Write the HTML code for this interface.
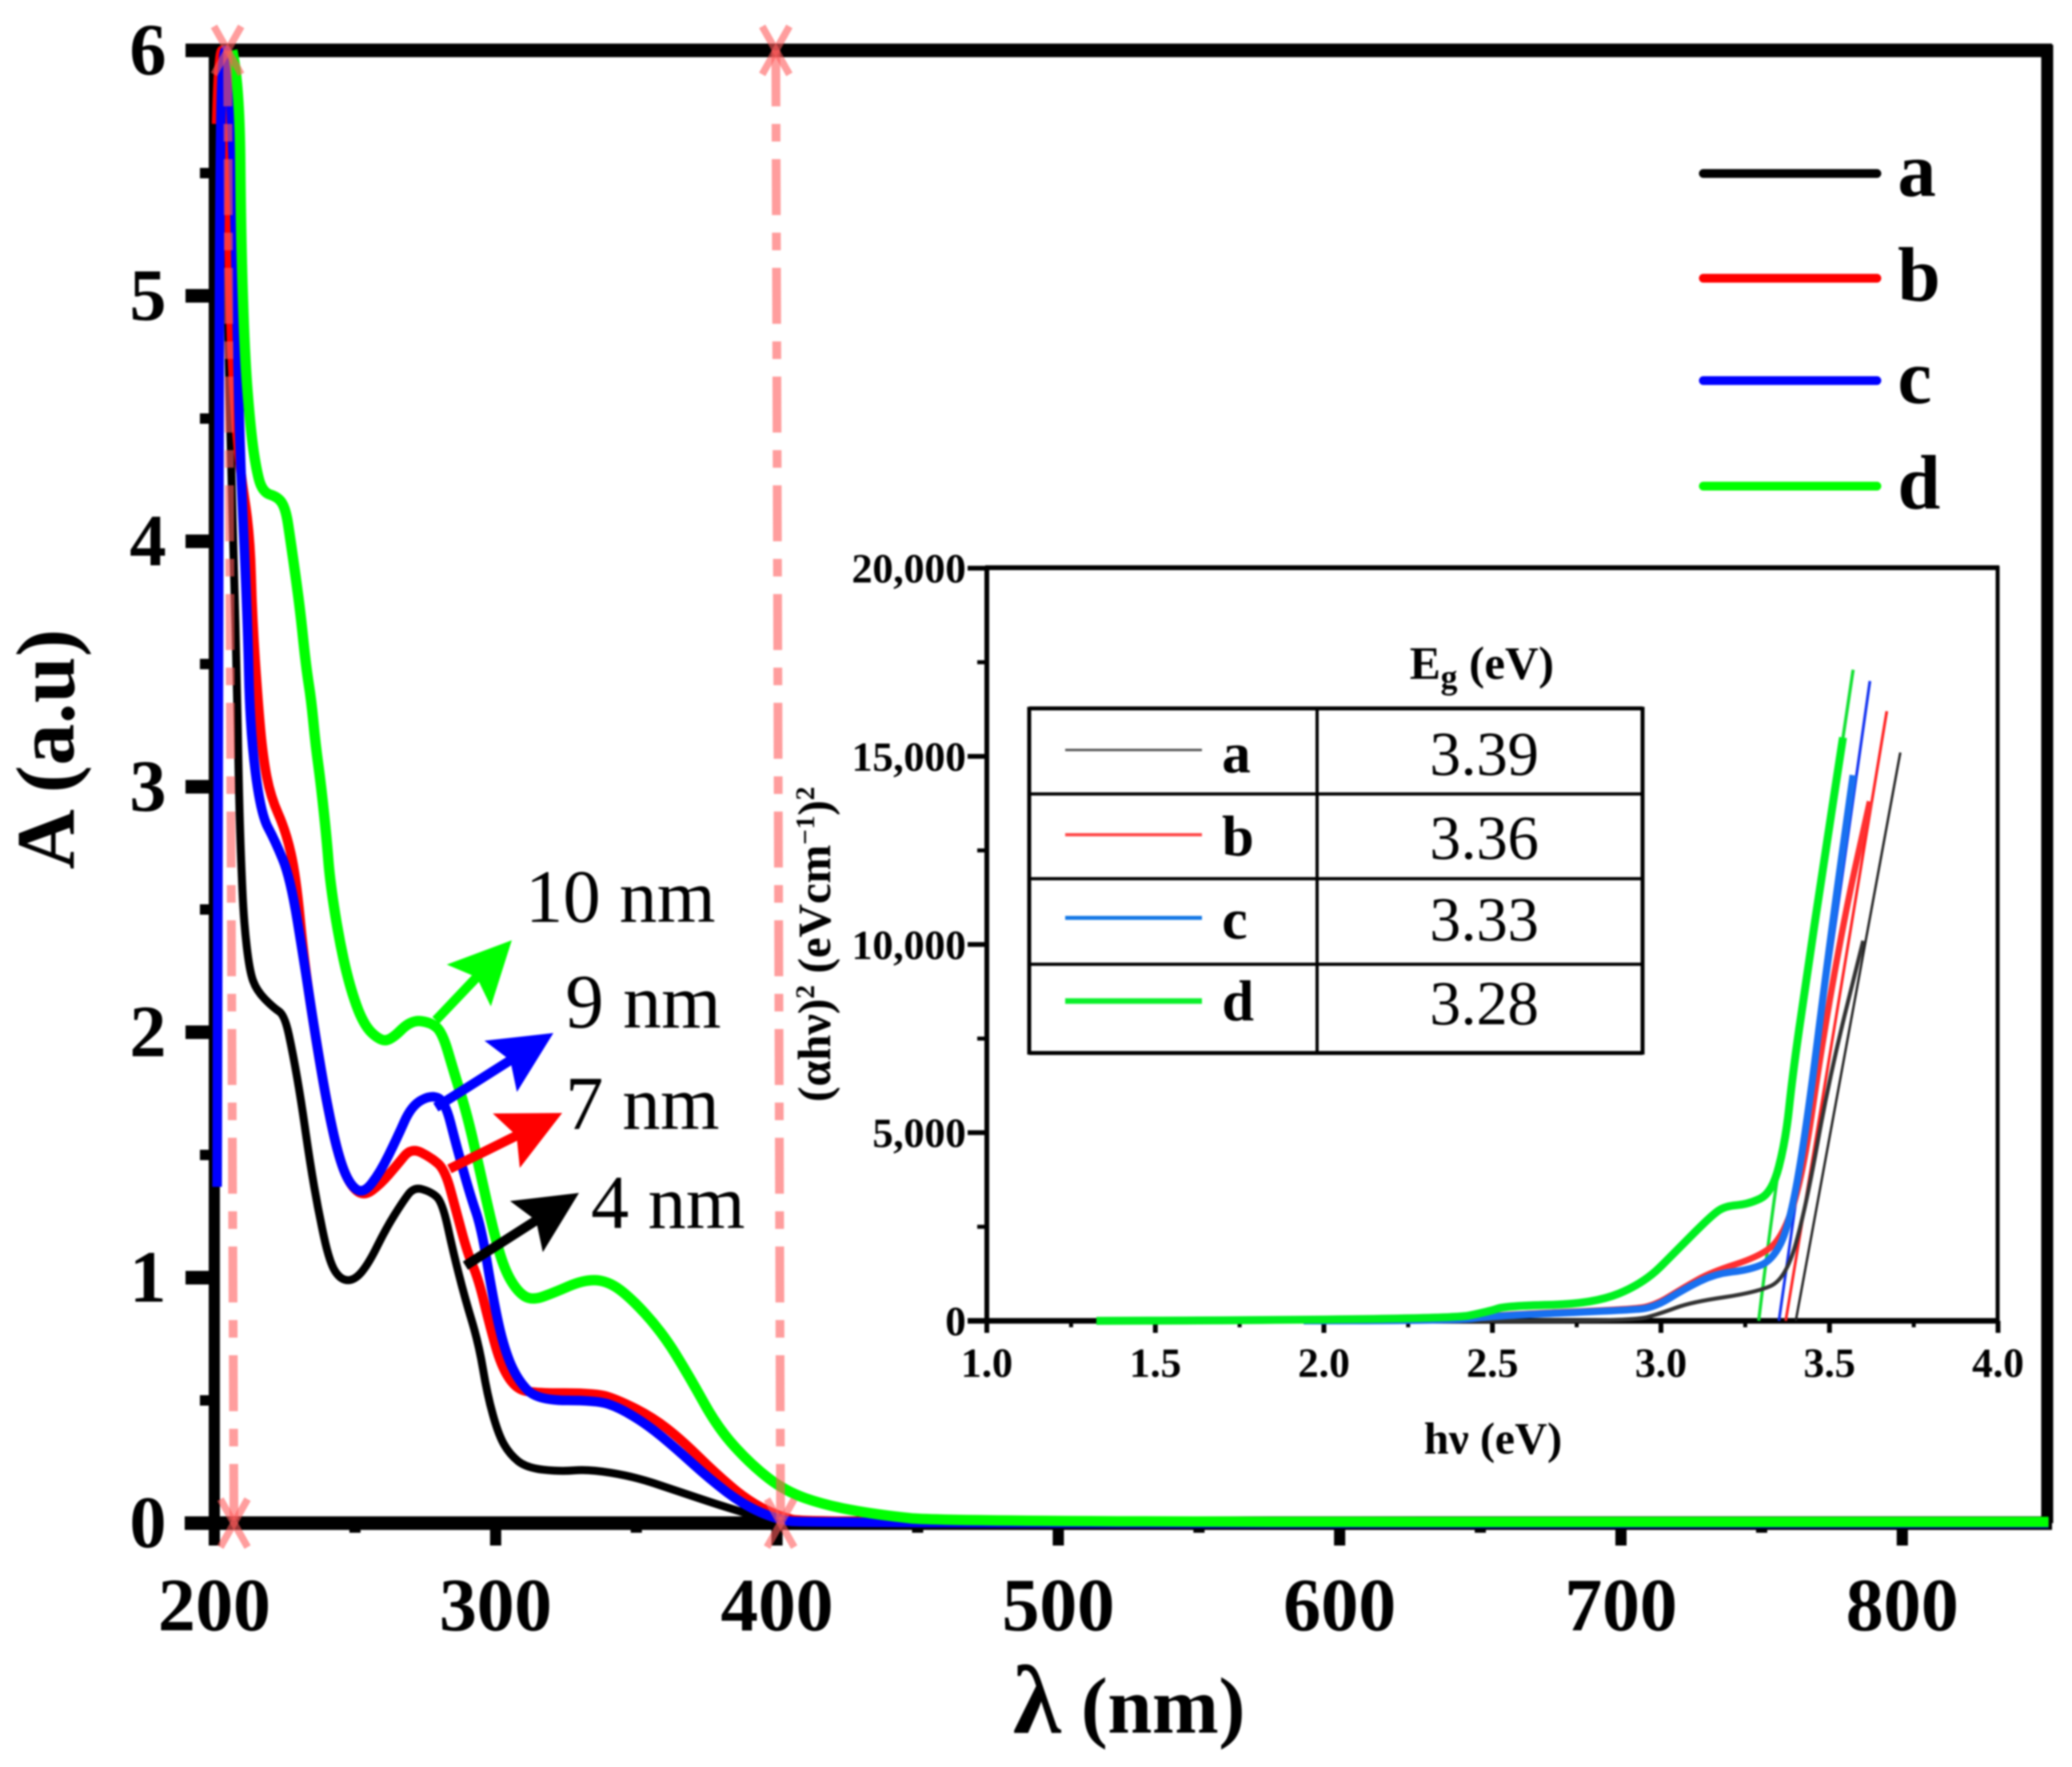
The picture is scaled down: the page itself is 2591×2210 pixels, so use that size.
<!DOCTYPE html>
<html>
<head>
<meta charset="utf-8">
<title>UV-Vis absorbance chart</title>
<style>
html,body{margin:0;padding:0;background:#fff;}
#stage{display:block;width:2591px;height:2210px;}
text{font-family:"Liberation Serif","DejaVu Serif",serif;fill:#000;}
</style>
</head>
<body>
<svg id="stage" xmlns="http://www.w3.org/2000/svg" width="2591" height="2210" viewBox="0 0 2591 2210">
  <rect x="0" y="0" width="2591" height="2210" fill="#fff"/>
  <g id="root" style="filter:blur(1.1px)"></g>
</svg>
<script>
// ---- main chart data ----
const xTickLabels = [200,300,400,500,600,700,800];
const xMinorTicks = [250,350,450,550,650,750];
const yTickLabels = [0,1,2,3,4,5,6];
const yMinorTicks = [0.5,1.5,2.5,3.5,4.5,5.5];
const markerLines = [205,401];

const aNm = [203,204.7,206,207,208,208.7,209.5,210.5,212.5,215,221,225,228,231,234,237,241,245,250,255,261,267,271,277,281,285,289,294,297,301,305,311,323,333,349,363,383,400,415,852];
const aAbs = [6,4.92,4.3,3.87,3.46,3.0,2.7,2.45,2.25,2.17,2.10,2.07,1.91,1.71,1.47,1.27,1.06,0.99,0.99,1.06,1.2,1.31,1.37,1.35,1.31,1.10,0.92,0.73,0.525,0.36,0.28,0.225,0.21,0.22,0.19,0.137,0.06,0.005,0,0];

const bNm = [200.8,201.5,204,205.6,207,209,212.7,213.5,215.5,217.3,220,225.4,229,232,236,240,244,248,253,259,265,270,277,282,286,290,294,298,302,307,313,336,344,356,366,378,389,400,411,852];
const bAbs = [5.7,6,6,4.95,4.6,4.3,4.03,3.69,3.35,3.12,2.96,2.82,2.64,2.28,1.98,1.71,1.50,1.38,1.33,1.38,1.46,1.53,1.49,1.44,1.27,1.10,0.99,0.80,0.64,0.55,0.53,0.53,0.50,0.43,0.34,0.205,0.097,0.03,0,0];

const cNm = [201,201.5,202,203,205,207,208,209,211.8,212.7,216.5,221.6,227,232,236,240,244,248,253,259,265,270,277,282,286,291,295,299,303,308,315,336,344,354,364,376,388,400,410,852];
const cAbs = [1.37,4,5.6,6,6,5.5,5.0,4.38,3.69,3.23,2.89,2.78,2.63,2.28,1.98,1.71,1.50,1.38,1.34,1.43,1.57,1.70,1.745,1.72,1.54,1.335,1.2,0.92,0.71,0.58,0.50,0.50,0.47,0.40,0.305,0.18,0.075,0.015,0,0];

const dNm = [206.4,209,209.5,210.9,212.8,214.6,217,222.8,225.4,227,229,230.8,232.6,234.5,236,238,240,241,244,248,253,259,263,270,277,281,285,290,295,299,303,308,313,321,331,339,347,359,369,379,391,403,417,435,460,852];
const dAbs = [6,5.86,5.22,4.74,4.47,4.31,4.2,4.18,4.13,4.01,3.85,3.69,3.49,3.35,3.17,3.0,2.78,2.63,2.40,2.19,2.03,1.965,1.97,2.05,2.04,2.0,1.845,1.66,1.405,1.2,1.035,0.94,0.907,0.94,0.99,0.99,0.93,0.78,0.595,0.387,0.236,0.13,0.074,0.035,0.005,0.005];

const legendLabels = ['a','b','c','d'];
const seriesColors = ['#000000','#ff0000','#0000ff','#00ff00'];

// ---- inset data ----
const insetXTicks = ['1.0','1.5','2.0','2.5','3.0','3.5','4.0'];
const insetYTicks = ['0','5,000','10,000','15,000','20,000'];

const insetAEv = [1.75,2.0,2.4,2.92,3.0,3.09,3.28,3.37,3.43,3.5,3.6];
const insetAVal = [40,50,0,0,200,500,750,1100,3000,6500,10100];
const insetBEv = [2.05,2.4,2.49,2.9,2.98,3.07,3.15,3.29,3.36,3.42,3.48,3.55,3.62];
const insetBVal = [0,0,150,300,400,900,1300,1700,2200,3800,7500,11000,13800];
const insetCEv = [1.94,2.4,2.49,2.9,2.98,3.07,3.16,3.26,3.33,3.38,3.43,3.5,3.57];
const insetCVal = [0,0,130,280,350,850,1250,1350,1600,2500,5000,10000,14500];
const insetDEv = [1.325,2.37,2.49,2.54,2.8,2.95,3.05,3.15,3.19,3.26,3.33,3.37,3.39,3.43,3.48,3.54];
const insetDVal = [0,30,250,400,450,1000,1900,2800,3050,3100,3400,4800,6500,9000,12000,15500];

const fitAEv = [3.40,3.71];
const fitAVal = [0,15100];
const fitBEv = [3.37,3.67];
const fitBVal = [0,16200];
const fitCEv = [3.35,3.62];
const fitCVal = [0,17000];
const fitDEv = [3.29,3.33,3.44,3.57];
const fitDVal = [0,3000,9500,17300];

const tableLabels = ['a','b','c','d'];
const tableValues = ['3.39','3.36','3.33','3.28'];
const tableLineColors = ['#555555','#ff4848','#1478e6','#0cf02c'];

// ---- scales ----
function xMain(v){ return 268 + (v-200)*3.518; }
function yMain(v){ return 1905 - v*307; }
function xIn(v){ return 1234 + (v-1)*421.5; }
function yIn(v){ return 1652 - v*0.04707; }

const NS = 'http://www.w3.org/2000/svg';
const root = document.getElementById('root');

function line(x1,y1,x2,y2,w,color,name){
  const el = document.createElementNS(NS,'line');
  el.setAttribute('x1',x1); el.setAttribute('y1',y1);
  el.setAttribute('x2',x2); el.setAttribute('y2',y2);
  el.setAttribute('stroke',color); el.setAttribute('stroke-width',w);
  
  
  root.appendChild(el);
  return el;
}
function label(str,x,y,size,weight,anchor,name){
  const el = document.createElementNS(NS,'text');
  el.setAttribute('x',x); el.setAttribute('y',y);
  el.setAttribute('font-size',size); el.setAttribute('font-weight',weight);
  el.setAttribute('text-anchor',anchor);
  el.textContent = str;
  
  
  root.appendChild(el);
  return el;
}
function curve(xs,ys,fx,fy,w,color,name){
  const pts = xs.map((v,i)=>[fx(v),fy(ys[i])]);
  let d = 'M'+pts[0][0].toFixed(1)+' '+pts[0][1].toFixed(1);
  for(let i=1;i<pts.length-1;i++){
    const mx=(pts[i][0]+pts[i+1][0])/2, my=(pts[i][1]+pts[i+1][1])/2;
    d += 'Q'+pts[i][0].toFixed(1)+' '+pts[i][1].toFixed(1)+' '+mx.toFixed(1)+' '+my.toFixed(1);
  }
  const last = pts[pts.length-1];
  d += 'L'+last[0].toFixed(1)+' '+last[1].toFixed(1);
  const el = document.createElementNS(NS,'path');
  el.setAttribute('d',d);
  el.setAttribute('fill','none'); el.setAttribute('stroke',color);
  el.setAttribute('stroke-width',w);
  el.setAttribute('stroke-linejoin','round');
  
  
  root.appendChild(el);
  return el;
}
function arrow(x1,y1,x2,y2,color,name){
  const dx=x2-x1, dy=y2-y1, len=Math.hypot(dx,dy), ux=dx/len, uy=dy/len, nx=-uy, ny=ux;
  const headLen=78, headW=38, notch=66;
  const pt=(a,b)=>(x2-ux*a+nx*b).toFixed(1)+','+(y2-uy*a+ny*b).toFixed(1);
  const el = document.createElementNS(NS,'polygon');
  el.setAttribute('points',[
    (x1+nx*6).toFixed(1)+','+(y1+ny*6).toFixed(1),
    pt(notch,6),pt(headLen,headW),pt(0,0),pt(headLen,-headW),pt(notch,-6),
    (x1-nx*6).toFixed(1)+','+(y1-ny*6).toFixed(1)
  ].join(' '));
  el.setAttribute('fill',color);
  
  
  root.appendChild(el);
}

// ---- main axes ----
line(233,63,2566,63,17,'#000','top-axis');
line(231,1905,2566,1905,17,'#000','x-axis');
line(268,56,268,1933,14,'#000','y-axis');
line(2560,56,2560,1905,15,'#000','right-axis');

xTickLabels.forEach(v=>{
  line(xMain(v),1905,xMain(v),1933,14,'#000','x-major-tick');
  label(String(v),xMain(v),2039,94,'bold','middle','x-tick-label');
});
xMinorTicks.forEach(v=>{
  line(xMain(v),1905,xMain(v),1917,14,'#000','x-minor-tick');
});
yTickLabels.forEach(v=>{
  line(232,yMain(v),268,yMain(v),17,'#000','y-major-tick');
  label(String(v),208,yMain(v)+30,92,'bold','end','y-tick-label');
});
yMinorTicks.forEach(v=>{
  line(250,yMain(v),268,yMain(v),13,'#000','y-minor-tick');
});

// ---- axis titles ----
const xTitle = label('',1412,2167,100,'bold','middle','x-axis-title');
xTitle.innerHTML = '<tspan font-size="122">λ</tspan><tspan> (nm)</tspan>';
const yTitle = label('A (a.u)',92,937,104,'bold','middle','y-axis-title');
yTitle.setAttribute('transform','rotate(-90 92 937)');

// ---- series ----
curve(aNm,aAbs,xMain,yMain,10,seriesColors[0],'series-a');
curve(bNm,bAbs,xMain,yMain,12,seriesColors[1],'series-b');
curve(cNm,cAbs,xMain,yMain,12,seriesColors[2],'series-c');
curve(dNm,dAbs,xMain,yMain,13,seriesColors[3],'series-d');

// ---- dashed range markers ----
markerLines.forEach((nm,i)=>{
  const xt = xMain(nm) + (i===0?-1:-5), xb = xMain(nm) + (i===0?7:1);
  const m = line(xt,63,xb,1905,11,'#ff5c5c','range-marker-line');
  m.setAttribute('stroke-dasharray','70 22 22 22');
  m.setAttribute('opacity','0.6');
  [[xt,63],[xb,1905]].forEach(p=>{
    const a = line(p[0]-17,p[1]-30,p[0]+17,p[1]+30,9,'#ff5c5c','range-marker-cross');
    const b = line(p[0]+17,p[1]-30,p[0]-17,p[1]+30,9,'#ff5c5c','range-marker-cross');
    a.setAttribute('opacity','0.6');
    b.setAttribute('opacity','0.6');
  });
});

// ---- legend ----
legendLabels.forEach((t,i)=>{
  const ly = [217,348,476,608][i];
  const l = line(2130,ly,2347,ly,11,seriesColors[i],'legend-line-'+t);
  l.setAttribute('stroke-linecap','round');
  label(t,2373,ly+28,96,'bold','start','legend-label-'+t);
});

// ---- size annotations ----
arrow(545,1276,640,1176,seriesColors[3],'arrow-10nm');
arrow(545,1385,692,1292,seriesColors[2],'arrow-9nm');
arrow(562,1462,703,1392,seriesColors[1],'arrow-7nm');
arrow(582,1583,724,1492,seriesColors[0],'arrow-4nm');
label('10 nm',657,1153,94,'normal','start','size-label-10nm');
label('9 nm',707,1285,96,'normal','start','size-label-9nm');
label('7 nm',707,1412,95,'normal','start','size-label-7nm');
label('4 nm',739,1536,95,'normal','start','size-label-4nm');

// ---- inset ----
line(1232,710,2500,710,6,'#000','inset-top-axis');
line(2498,708,2498,1655,5,'#000','inset-right-axis');
line(1234,708,1234,1667,6,'#000','inset-y-axis');
line(1210,1652,2500,1652,7,'#000','inset-x-axis');

insetXTicks.forEach(t=>{
  const v = parseFloat(t);
  line(xIn(v),1652,xIn(v),1667,6,'#000','inset-x-major-tick');
  label(t,xIn(v),1722,52,'bold','middle','inset-x-tick-label');
});
[1.25,1.75,2.25,2.75,3.25,3.75].forEach(v=>{
  line(xIn(v),1652,xIn(v),1660,5,'#000','inset-x-minor-tick');
});
insetYTicks.forEach(t=>{
  const v = parseInt(t.replace(',',''),10);
  line(1210,yIn(v),1234,yIn(v),6,'#000','inset-y-major-tick');
  label(t,1208,yIn(v)+18,52,'bold','end','inset-y-tick-label');
});
[2500,7500,12500,17500].forEach(v=>{
  line(1222,yIn(v),1234,yIn(v),5,'#000','inset-y-minor-tick');
});

curve(fitAEv,fitAVal,xIn,yIn,3,'#222222','inset-fit-a');
curve(fitBEv,fitBVal,xIn,yIn,3.5,'#ff2020','inset-fit-b');
curve(fitCEv,fitCVal,xIn,yIn,3.5,'#1030f0','inset-fit-c');
curve(fitDEv,fitDVal,xIn,yIn,4,'#10e030','inset-fit-d');
curve(insetAEv,insetAVal,xIn,yIn,5,'#333333','inset-series-a');
curve(insetBEv,insetBVal,xIn,yIn,8,'#ff3030','inset-series-b');
curve(insetCEv,insetCVal,xIn,yIn,9,'#1870f0','inset-series-c');
curve(insetDEv,insetDVal,xIn,yIn,10,'#00f020','inset-series-d');

// inset table
const rowY = [886,993,1099,1206,1317];
const sampleY = [938,1044,1148,1252];
const labelBase = [966,1070,1174,1276];
const valueBase = [969,1074,1176,1281];
line(1287,rowY[0],2054,rowY[0],5,'#000','table-top-border');
line(1287,rowY[4],2054,rowY[4],5,'#000','table-bottom-border');
line(1287,rowY[1],2054,rowY[1],4,'#000','table-row-border');
line(1287,rowY[2],2054,rowY[2],4,'#000','table-row-border');
line(1287,rowY[3],2054,rowY[3],4,'#000','table-row-border');
line(1287,884,1287,1319,5,'#000','table-left-border');
line(1647,884,1647,1319,4,'#000','table-column-border');
line(2054,884,2054,1319,5,'#000','table-right-border');
tableLabels.forEach((t,i)=>{
  line(1332,sampleY[i],1503,sampleY[i],[3,4,5,7][i],tableLineColors[i],'table-sample-line-'+t);
  label(t,1528,labelBase[i],72,'bold','start','table-label-'+t);
  label(tableValues[i],1856,valueBase[i],78,'normal','middle','table-value-'+t);
});
const eg = label('',1853,849,58,'bold','middle','table-header-eg');
eg.innerHTML = 'E<tspan font-size="42" dy="12">g</tspan><tspan dy="-12"> (eV)</tspan>';

// inset titles
label('hν (eV)',1867,1818,56,'bold','middle','inset-x-axis-title');
const inY = label('',1038,1181,58,'bold','middle','inset-y-axis-title');
inY.innerHTML = '(αhν)<tspan font-size="34" dy="-20">2</tspan><tspan dy="20"> (eVcm</tspan><tspan font-size="34" dy="-20">−1</tspan><tspan dy="20">)</tspan><tspan font-size="34" dy="-20">2</tspan>';
inY.setAttribute('transform','rotate(-90 1038 1181)');
</script>
</body>
</html>
